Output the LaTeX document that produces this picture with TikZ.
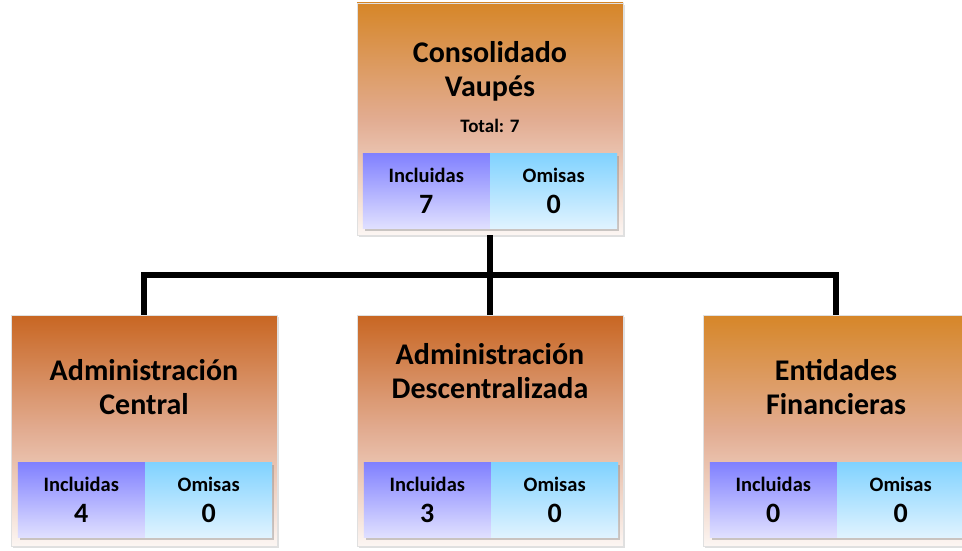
\documentclass[tikz,border=0pt]{standalone}
\usepackage{fontspec}
\setmainfont{Carlito}
\usetikzlibrary{positioning,shadows}

\definecolor{naranja}{RGB}{214,134,40}
\definecolor{naranjaoscuro}{RGB}{200,102,34}
\definecolor{salmon}{RGB}{226,172,145}
\definecolor{crema}{RGB}{252,246,243}
\definecolor{lila}{RGB}{128,128,255}
\definecolor{lilaclaro}{RGB}{224,224,255}
\definecolor{celeste}{RGB}{128,210,255}
\definecolor{celesteclaro}{RGB}{224,243,255}

\begin{document}
\begin{tikzpicture}[x=1pt,y=1pt,
    caja/.style={rectangle, minimum width=266pt, minimum height=231pt, inner sep=0pt,
      draw=black!12, line width=0.8pt,
      top color=#1, bottom color=crema, middle color=salmon,
      drop shadow={opacity=0.25, shadow xshift=2pt, shadow yshift=-2pt}},
    celda/.style={rectangle, minimum width=127pt, minimum height=75pt, inner sep=0pt,
      align=center, font=\fontsize{20.5}{31}\selectfont\bfseries,
      drop shadow={opacity=0.4, shadow xshift=2pt, shadow yshift=-3pt}},
    incl/.style={celda, top color=lila, bottom color=lilaclaro},
    omis/.style={celda, top color=celeste, bottom color=celesteclaro},
    titulo/.style={align=center, font=\fontsize{30}{34}\selectfont\bfseries},
    conector/.style={line width=5.5pt}]

	\clip (0,0) rectangle (962,550);

	\node[caja=naranja, minimum height=232pt] (consolidado) at (490,431) {};
	\node[titulo] (consolidado-titulo) at (490,479) {Consolidado\\Vaupés};
	\node[font=\fontsize{19}{20}\selectfont\bfseries] (consolidado-total) at (490,424) {Total: 7};
	\node[incl, anchor=south west] (consolidado-incl) at ([shift={(6pt,7pt)}]consolidado.south west)
		{Incluidas\\{\fontsize{28}{31}\selectfont 7}};
	\node[omis, right=0pt of consolidado-incl] (consolidado-omis)
		{Omisas\\{\fontsize{28}{31}\selectfont 0}};

	\foreach \caja/\x/\tono/\ty/\texto/\ninc in {%
			admcentral/144/naranjaoscuro/163/{Administración\\Central}/4,
			admdesc/490/naranjaoscuro/179/{Administración\\Descentralizada}/3,
			entidades/836/naranja/163/{Entidades\\Financieras}/0}{%
			\node[caja=\tono] (\caja) at (\x,119.5) {};
			\node[titulo] (\caja-titulo) at (\x,\ty) {\texto};
			\node[incl, anchor=south west] (\caja-incl) at ([shift={(7pt,9pt)}]\caja.south west)
				{Incluidas\\{\fontsize{28}{31}\selectfont \ninc}};
			\node[omis, right=0pt of \caja-incl] (\caja-omis)
				{Omisas\\{\fontsize{28}{31}\selectfont 0}};
		}

	\coordinate (nudo) at (490,275);
	\draw[conector] (consolidado.south) -- (nudo);
	\draw[conector] (nudo) -| (admcentral.north);
	\draw[conector] (nudo) -- (admdesc.north);
	\draw[conector] (nudo) -| (entidades.north);
\end{tikzpicture}
\end{document}
